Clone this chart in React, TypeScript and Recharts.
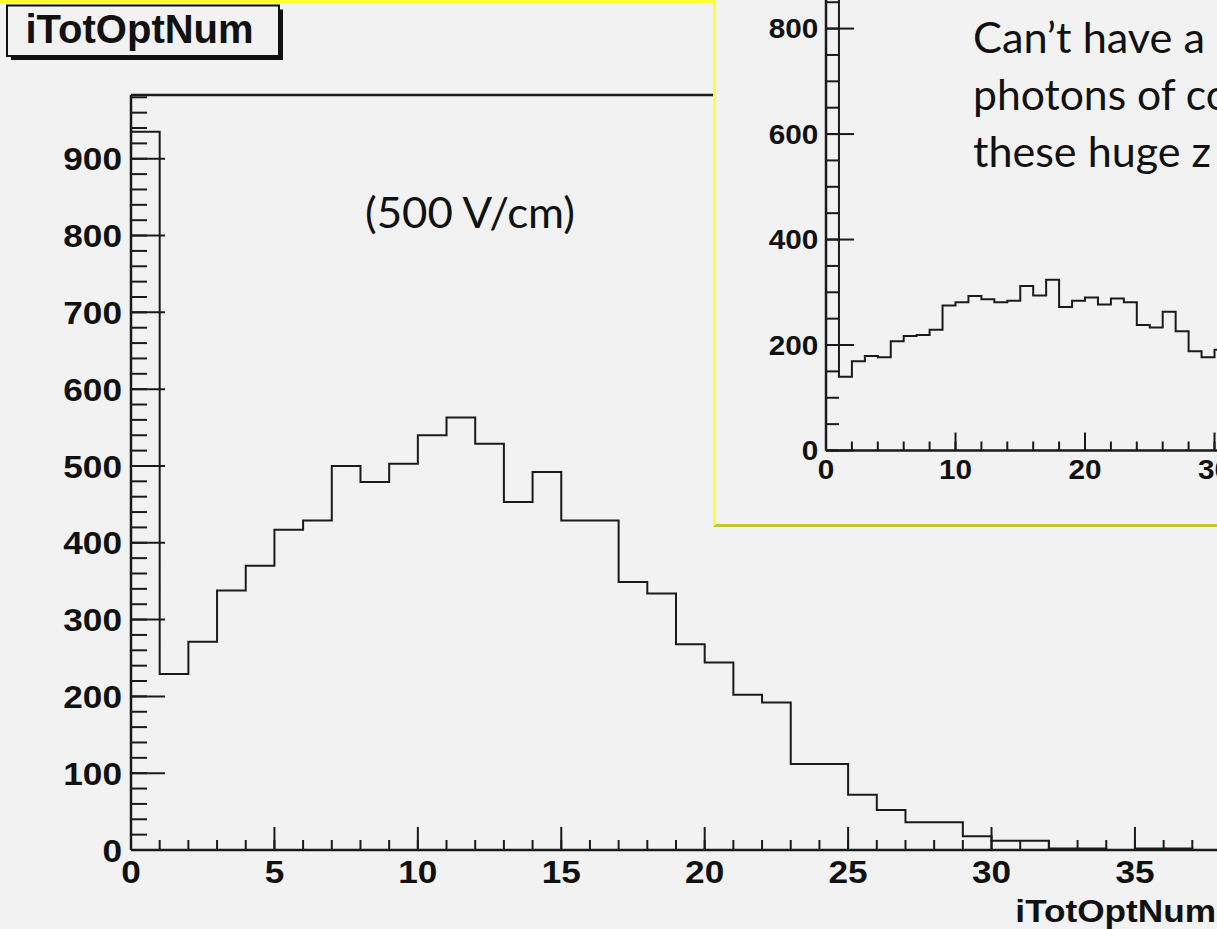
import { LineChart, Line, XAxis, YAxis } from "recharts";

// main histogram, one count per unit bin starting at 0
const mainCounts = [
  935, 229, 271, 338, 370, 417, 429, 500, 479, 503, 540, 563, 529, 453, 492, 429, 429, 349, 334,
  268, 244, 202, 192, 112, 112, 72, 52, 36, 36, 18, 12, 12, 2, 2, 0, 2, 2, 0,
];
const mainXTicks = [0, 5, 10, 15, 20, 25, 30, 35];
const mainYTicks = [0, 100, 200, 300, 400, 500, 600, 700, 800, 900];

// inset histogram (other field setting)
const insetCounts = [
  1050, 140, 169, 179, 177, 207, 217, 219, 229, 275, 281, 293, 287, 281, 284, 312, 294, 324, 272,
  284, 290, 277, 288, 281, 238, 233, 263, 226, 188, 177, 191, 180,
];
const insetXTicks = [0, 10, 20, 30, 40];
const insetYTicks = [0, 200, 400, 600, 800];

const histTitle = "iTotOptNum";
const fieldNote = "(500 V/cm)";
const insetNote = ["Can’t have a", "photons of co", "these huge z"];

const range = (a: number, b: number, s: number) => {
  const out: number[] = [];
  for (let v = a; v <= b + 1e-9; v += s) out.push(v);
  return out;
};

const toSteps = (counts: number[]) => [
  { x: 0, n: 0 },
  ...counts.map((n, i) => ({ x: i, n })),
  { x: counts.length, n: counts[counts.length - 1] },
];

const INK = "#1a1a1a";
const ROOT_FONT = "'Liberation Sans', Arial, Helvetica, sans-serif";
const THIN = 0.001; // axes take no room, but must be > 0 to be drawn

const RootLabel = ({ x, y, payload, anchor, size, stretch, dy }: any) => (
  <text
    transform={`translate(${x},${y}) scale(${stretch},1)`}
    textAnchor={anchor}
    dy={dy}
    fontSize={size}
    fontWeight="bold"
    fontFamily={ROOT_FONT}
    fill="#111"
  >
    {payload.value}
  </text>
);

// tick marks only, no text
const NoLabel = () => <g />;

type FrameProps = {
  steps: { x: number; n: number }[];
  width: number;
  height: number;
  margin: { top: number; right: number; bottom: number; left: number };
  xMax: number;
  yMax: number;
  xTicks: number[];
  xMinor: number[];
  yTicks: number[];
  yMajor: number[];
  yMinor: number[];
  xMajLen: number;
  xMinLen: number;
  yMajLen: number;
  yMinLen: number;
  fontSize: number;
  stretch: number;
  xGap: number;
  yGap: number;
  topFrame: boolean;
};

const RootHisto = (p: FrameProps) => {
  const axisLine = { stroke: INK, strokeWidth: 2.5 };
  const tickLine = { stroke: INK, strokeWidth: 2 };
  const xd: [number, number] = [0, p.xMax];
  const yd: [number, number] = [0, p.yMax];
  return (
    <LineChart width={p.width} height={p.height} data={p.steps} margin={p.margin}>
      <XAxis xAxisId="lab" type="number" dataKey="x" domain={xd} allowDataOverflow ticks={p.xTicks} interval={0}
        height={THIN} axisLine={false} tickLine={false} tickSize={0} tickMargin={p.xGap}
        tick={(t: any) => <RootLabel {...t} anchor="middle" dy="0.72em" size={p.fontSize} stretch={p.stretch} />} />
      <XAxis xAxisId="maj" type="number" dataKey="x" domain={xd} allowDataOverflow ticks={p.xTicks} interval={0}
        height={THIN} mirror tick={NoLabel} tickSize={p.xMajLen} axisLine={axisLine} tickLine={tickLine} />
      <XAxis xAxisId="min" type="number" dataKey="x" domain={xd} allowDataOverflow ticks={p.xMinor} interval={0}
        height={THIN} mirror tick={NoLabel} tickSize={p.xMinLen} axisLine={false} tickLine={tickLine} />
      {p.topFrame && (
        <XAxis xAxisId="top" orientation="top" type="number" dataKey="x" domain={xd} allowDataOverflow
          height={THIN} mirror tick={false} tickLine={false} axisLine={axisLine} />
      )}
      <YAxis yAxisId="lab" type="number" domain={yd} allowDataOverflow ticks={p.yTicks} interval={0}
        width={THIN} axisLine={false} tickLine={false} tickSize={0} tickMargin={p.yGap}
        tick={(t: any) => <RootLabel {...t} anchor="end" dy="0.36em" size={p.fontSize} stretch={p.stretch} />} />
      <YAxis yAxisId="maj" type="number" domain={yd} allowDataOverflow ticks={p.yMajor} interval={0}
        width={THIN} mirror tick={NoLabel} tickSize={p.yMajLen} axisLine={axisLine} tickLine={tickLine} />
      <YAxis yAxisId="min" type="number" domain={yd} allowDataOverflow ticks={p.yMinor} interval={0}
        width={THIN} mirror tick={NoLabel} tickSize={p.yMinLen} axisLine={false} tickLine={tickLine} />
      <Line xAxisId="lab" yAxisId="lab" dataKey="n" type="stepAfter" stroke={INK} strokeWidth={2}
        dot={false} activeDot={false} isAnimationActive={false} />
    </LineChart>
  );
};

const App = () => {
  return (
    <div style={{ position: "absolute", left: 0, top: 0, width: 1217, height: 929, overflow: "hidden", background: "#f2f2f2" }}>
      <div style={{ position: "absolute", left: 0, top: 0 }}>
        <RootHisto
          steps={toSteps(mainCounts)}
          width={1300}
          height={929}
          margin={{ top: 95, right: 79, bottom: 79, left: 131 }}
          xMax={38}
          yMax={983}
          xTicks={mainXTicks}
          xMinor={range(0, 38, 1)}
          yTicks={mainYTicks}
          yMajor={mainYTicks}
          yMinor={range(0, 980, 20)}
          xMajLen={23}
          xMinLen={10}
          yMajLen={34}
          yMinLen={16}
          fontSize={32}
          stretch={1.1}
          xGap={10}
          yGap={9}
          topFrame
        />
      </div>

      <svg width={1217} height={929} style={{ position: "absolute", left: 0, top: 0 }}>
        <rect x={0} y={0} width={716} height={3.5} fill="#ffff33" />
        {/* ROOT title pave with its shadow */}
        <rect x={11} y={9.5} width={272} height={50.5} fill="#111" />
        <rect x={7} y={5.5} width={272} height={50.5} fill="#f2f2f2" stroke="#111" strokeWidth={2} />
        <text x={25.5} y={42.7} fontSize={40} fontWeight="bold" fontFamily={ROOT_FONT} fill="#111">
          {histTitle}
        </text>
        <text x={365} y={228} fontSize={42} fontFamily="Lato, 'Open Sans', sans-serif" fill="#111"
          textLength={210} lengthAdjust="spacingAndGlyphs">
          {fieldNote}
        </text>
        <text transform="translate(1216,922) scale(1.1,1)" textAnchor="end" fontSize={32} fontWeight="bold"
          fontFamily={ROOT_FONT} fill="#111">
          {histTitle}
        </text>
      </svg>

      <div style={{ position: "absolute", left: 713, top: -10, width: 560, height: 537, boxSizing: "border-box",
        background: "#f2f2f2", borderLeft: "3px solid #ffff33", borderBottom: "3px solid #c8c43a" }}>
        <div style={{ position: "absolute", left: 0, top: -290 }}>
          <RootHisto
            steps={toSteps(insetCounts)}
            width={700}
            height={790}
            margin={{ top: 64.9, right: 72, bottom: 39.5, left: 110 }}
            xMax={40}
            yMax={1300}
            xTicks={insetXTicks}
            xMinor={range(0, 40, 2)}
            yTicks={insetYTicks}
            yMajor={range(0, 1200, 200)}
            yMinor={range(0, 1300, 50)}
            xMajLen={18}
            xMinLen={9}
            yMajLen={28}
            yMinLen={13}
            fontSize={27}
            stretch={1.1}
            xGap={9.5}
            yGap={7.7}
            topFrame={false}
          />
        </div>
      </div>

      <svg width={1217} height={929} style={{ position: "absolute", left: 0, top: 0 }}>
        {insetNote.map((line, i) => (
          <text key={line} x={973} y={53.3 + i * 56.7} fontSize={42} fontFamily="Lato, 'Open Sans', sans-serif"
            fill="#111" textLength={[232, 257, 238][i]} lengthAdjust="spacingAndGlyphs">
            {line}
          </text>
        ))}
      </svg>
    </div>
  );
};

export default App;
